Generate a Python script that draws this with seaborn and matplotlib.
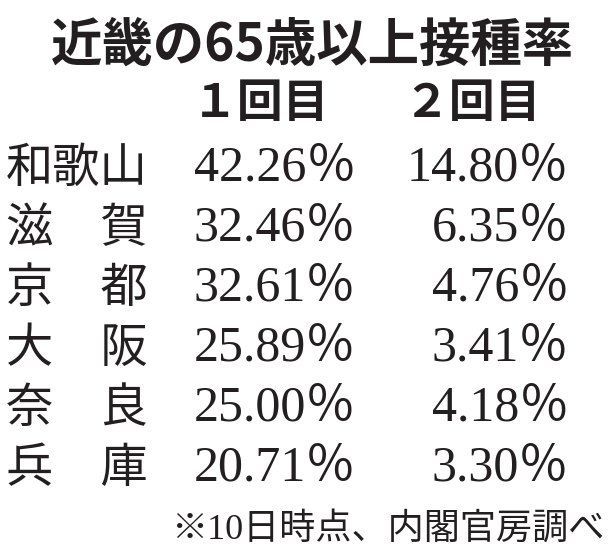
import matplotlib
matplotlib.use("Agg")
import matplotlib.pyplot as plt
import seaborn as sns
import pandas as pd

title = "近畿の65歳以上接種率"
headers = ["１回目", "２回目"]
prefectures = ["和歌山", "滋　賀", "京　都", "大　阪", "奈　良", "兵　庫"]
dose1 = [42.26, 32.46, 32.61, 25.89, 25.00, 20.71]
dose2 = [14.80, 6.35, 4.76, 3.41, 4.18, 3.30]
footnote = "※10日時点、内閣官房調べ"

df = pd.DataFrame({"pref": prefectures, "d1": dose1, "d2": dose2})

sns.set_theme(style="white")
plt.rcParams["font.family"] = ["Noto Sans CJK JP", "DejaVu Sans"]

W, H = 612, 546
fig = plt.figure(figsize=(W / 100, H / 100), dpi=100)
ax = fig.add_axes([0, 0, 1, 1])
ax.set_xlim(0, W)
ax.set_ylim(H, 0)
ax.axis("off")
fig.patch.set_facecolor("white")

cjk = ["Noto Sans CJK JP", "DejaVu Sans"]
serif = ["Liberation Serif", "Noto Sans CJK JP"]
ink = "#231f20"

ax.text(312, 40, title, ha="center", va="center_baseline", fontsize=37,
        fontweight="bold", family=cjk, color=ink)

header_x = [261, 472]
for hx, h in zip(header_x, headers):
    ax.text(hx, 99, h, ha="center", va="center_baseline",
            fontsize=33, fontweight="bold", family=cjk, color=ink)

row_y0, row_dy = 163, 60
for i, r in df.iterrows():
    y = row_y0 + i * row_dy
    ax.text(6, y, r["pref"], ha="left", va="center_baseline", fontsize=34,
            family=cjk, color=ink)
    ax.text(356, y, f"{r['d1']:.2f}％", ha="right", va="center_baseline",
            fontsize=36, family=serif, color=ink)
    ax.text(569, y, f"{r['d2']:.2f}％", ha="right", va="center_baseline",
            fontsize=36, family=serif, color=ink)

ax.text(604, 526, footnote, ha="right", va="center_baseline", fontsize=26,
        family=serif, color=ink)

fig.savefig("out.png", dpi=100, facecolor="white")
